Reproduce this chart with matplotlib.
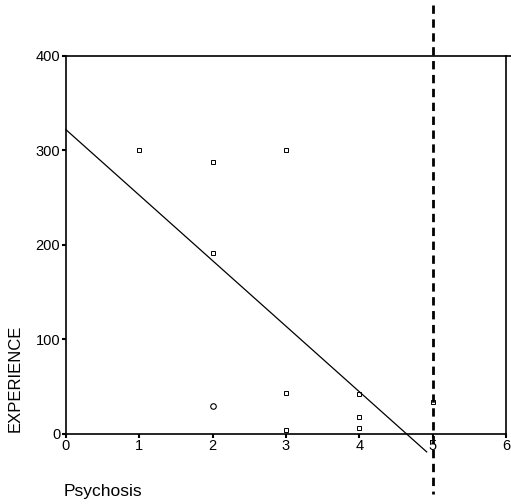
import matplotlib
matplotlib.use("Agg")
import matplotlib.pyplot as plt

plt.rcParams['font.family'] = ['Liberation Sans', 'DejaVu Sans']

# scatter points (Psychosis vs EXPERIENCE)
psychosis = [1, 2, 2, 3, 3, 3, 4, 4, 4, 5]
experience = [300, 288, 192, 300, 43, 4, 42, 18, 6, 34]
# the one point drawn as a circle
circle_x = [2]
circle_y = [30]

# fitted line
fit_x = [0, 4.92]
fit_y = [322, -19]

cutoff_x = 5
xticks = [0, 1, 2, 3, 4, 5, 6]
yticks = [0, 100, 200, 300, 400]

fig = plt.figure(figsize=(5.11, 5.04), dpi=100)
ax = fig.add_axes([0.129, 0.139, 0.861, 0.750])

ax.plot(psychosis, experience, linestyle="none", marker="s", markersize=3.5,
        markerfacecolor="none", markeredgecolor="black", markeredgewidth=0.7)
ax.plot(circle_x, circle_y, linestyle="none", marker="o", markersize=4,
        markerfacecolor="none", markeredgecolor="black", markeredgewidth=0.8)

ax.plot(fit_x, fit_y, color="black", linewidth=0.9, clip_on=False)

# dashed vertical cut-off line running past the frame
ax.plot([cutoff_x, cutoff_x], [454, -64], color="black", linewidth=2,
        linestyle=(0, (3, 2)), clip_on=False)

# top line runs a little past the right edge
ax.plot([6, 6.1], [400, 400], color="black", linewidth=1.2, clip_on=False)

ax.set_xlim(0, 6)
ax.set_ylim(0, 400)
ax.set_xticks(xticks)
ax.set_yticks(yticks)
ax.tick_params(direction="out", length=3, width=1.5, labelsize=10.5, pad=1)
for s in ax.spines.values():
    s.set_linewidth(1.2)

fig.text(0.03, 0.25, "EXPERIENCE", rotation=90, fontsize=12,
         ha="center", va="center")
fig.text(0.125, 0.01, "Psychosis", fontsize=12.5, ha="left", va="bottom")

fig.savefig("out.png", dpi=100)
